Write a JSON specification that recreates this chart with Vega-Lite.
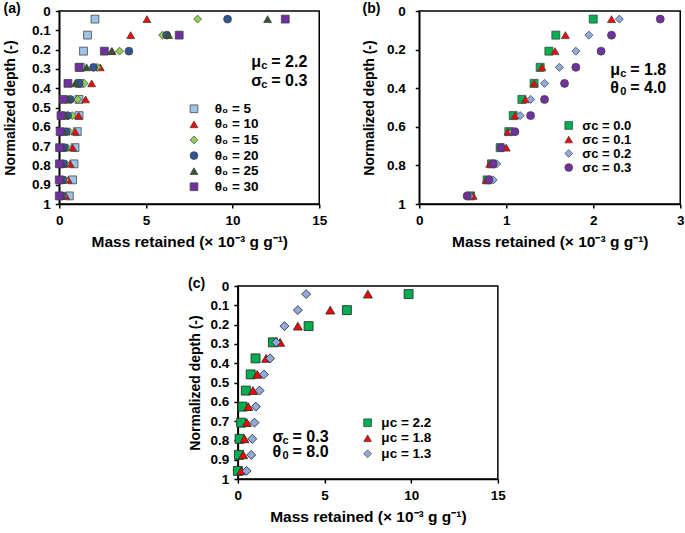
{
  "$schema": "https://vega.github.io/schema/vega-lite/v6.json",
  "padding": {"left": 2, "top": 1, "right": 2, "bottom": 2},
  "background": "white",
  "config": {
    "font": "Liberation Sans",
    "view": {"stroke": "black", "strokeWidth": 1.5},
    "axis": {"grid": false, "domainColor": "black", "domainWidth": 1.5, "tickColor": "black", "tickWidth": 1.5, "tickSize": 4, "labelFont": "Liberation Sans", "labelFontWeight": "bold", "labelFontSize": 13.5, "labelColor": "black", "titleFont": "Liberation Sans", "titleFontWeight": "bold", "titleFontSize": 14, "titleColor": "black", "labelPadding": 5, "labelFlush": false, "labelOverlap": false},
    "legend": {"labelFont": "Liberation Sans", "labelFontWeight": "bold", "labelFontSize": 13.5, "labelColor": "black", "symbolStrokeColor": "#404040", "symbolStrokeWidth": 0.75, "symbolSize": 60, "orient": "none", "padding": 0},
    "title": {"font": "Liberation Sans", "fontSize": 14, "fontWeight": "bold", "color": "black", "anchor": "start", "frame": "bounds"}
  },
  "datasets": {
    "a": [
      {"s": "θ₀ = 5", "d": 0.042, "m": 2.06}, {"s": "θ₀ = 5", "d": 0.125, "m": 1.63}, {"s": "θ₀ = 5", "d": 0.208, "m": 1.40}, {"s": "θ₀ = 5", "d": 0.292, "m": 1.22}, {"s": "θ₀ = 5", "d": 0.375, "m": 1.17}, {"s": "θ₀ = 5", "d": 0.458, "m": 1.14}, {"s": "θ₀ = 5", "d": 0.542, "m": 1.14}, {"s": "θ₀ = 5", "d": 0.625, "m": 1.04}, {"s": "θ₀ = 5", "d": 0.708, "m": 0.91}, {"s": "θ₀ = 5", "d": 0.792, "m": 0.85}, {"s": "θ₀ = 5", "d": 0.875, "m": 0.77}, {"s": "θ₀ = 5", "d": 0.958, "m": 0.58},
      {"s": "θ₀ = 10", "d": 0.042, "m": 5.06}, {"s": "θ₀ = 10", "d": 0.125, "m": 4.12}, {"s": "θ₀ = 10", "d": 0.208, "m": 3.05}, {"s": "θ₀ = 10", "d": 0.292, "m": 2.37}, {"s": "θ₀ = 10", "d": 0.375, "m": 1.87}, {"s": "θ₀ = 10", "d": 0.458, "m": 1.52}, {"s": "θ₀ = 10", "d": 0.542, "m": 1.12}, {"s": "θ₀ = 10", "d": 0.625, "m": 0.92}, {"s": "θ₀ = 10", "d": 0.708, "m": 0.77}, {"s": "θ₀ = 10", "d": 0.792, "m": 0.63}, {"s": "θ₀ = 10", "d": 0.875, "m": 0.52}, {"s": "θ₀ = 10", "d": 0.958, "m": 0.38},
      {"s": "θ₀ = 15", "d": 0.042, "m": 7.98}, {"s": "θ₀ = 15", "d": 0.125, "m": 5.96}, {"s": "θ₀ = 15", "d": 0.208, "m": 3.48}, {"s": "θ₀ = 15", "d": 0.292, "m": 2.19}, {"s": "θ₀ = 15", "d": 0.375, "m": 1.44}, {"s": "θ₀ = 15", "d": 0.458, "m": 1.06}, {"s": "θ₀ = 15", "d": 0.542, "m": 0.75}, {"s": "θ₀ = 15", "d": 0.625, "m": 0.58}, {"s": "θ₀ = 15", "d": 0.708, "m": 0.46}, {"s": "θ₀ = 15", "d": 0.792, "m": 0.38}, {"s": "θ₀ = 15", "d": 0.875, "m": 0.34}, {"s": "θ₀ = 15", "d": 0.958, "m": 0.25},
      {"s": "θ₀ = 20", "d": 0.042, "m": 9.71}, {"s": "θ₀ = 20", "d": 0.125, "m": 6.2}, {"s": "θ₀ = 20", "d": 0.208, "m": 4.02}, {"s": "θ₀ = 20", "d": 0.292, "m": 1.98}, {"s": "θ₀ = 20", "d": 0.375, "m": 1.15}, {"s": "θ₀ = 20", "d": 0.458, "m": 0.64}, {"s": "θ₀ = 20", "d": 0.542, "m": 0.48}, {"s": "θ₀ = 20", "d": 0.625, "m": 0.4}, {"s": "θ₀ = 20", "d": 0.708, "m": 0.3}, {"s": "θ₀ = 20", "d": 0.792, "m": 0.25}, {"s": "θ₀ = 20", "d": 0.875, "m": 0.2}, {"s": "θ₀ = 20", "d": 0.958, "m": 0.15},
      {"s": "θ₀ = 25", "d": 0.042, "m": 12.02}, {"s": "θ₀ = 25", "d": 0.125, "m": 6.31}, {"s": "θ₀ = 25", "d": 0.208, "m": 3.02}, {"s": "θ₀ = 25", "d": 0.292, "m": 1.58}, {"s": "θ₀ = 25", "d": 0.375, "m": 0.92}, {"s": "θ₀ = 25", "d": 0.458, "m": 0.5}, {"s": "θ₀ = 25", "d": 0.542, "m": 0.35}, {"s": "θ₀ = 25", "d": 0.625, "m": 0.25}, {"s": "θ₀ = 25", "d": 0.708, "m": 0.2}, {"s": "θ₀ = 25", "d": 0.792, "m": 0.15}, {"s": "θ₀ = 25", "d": 0.875, "m": 0.12}, {"s": "θ₀ = 25", "d": 0.958, "m": 0.1},
      {"s": "θ₀ = 30", "d": 0.042, "m": 13.04}, {"s": "θ₀ = 30", "d": 0.125, "m": 6.92}, {"s": "θ₀ = 30", "d": 0.208, "m": 2.6}, {"s": "θ₀ = 30", "d": 0.292, "m": 1.14}, {"s": "θ₀ = 30", "d": 0.375, "m": 0.5}, {"s": "θ₀ = 30", "d": 0.458, "m": 0.24}, {"s": "θ₀ = 30", "d": 0.542, "m": 0.1}, {"s": "θ₀ = 30", "d": 0.625, "m": 0.05}, {"s": "θ₀ = 30", "d": 0.708, "m": 0.02}, {"s": "θ₀ = 30", "d": 0.792, "m": 0.01}, {"s": "θ₀ = 30", "d": 0.875, "m": 0.0}, {"s": "θ₀ = 30", "d": 0.958, "m": 0.0}
    ],
    "b": [
      {"s": "σc = 0.0", "d": 0.042, "m": 2.00}, {"s": "σc = 0.0", "d": 0.125, "m": 1.57}, {"s": "σc = 0.0", "d": 0.208, "m": 1.49}, {"s": "σc = 0.0", "d": 0.292, "m": 1.39}, {"s": "σc = 0.0", "d": 0.375, "m": 1.32}, {"s": "σc = 0.0", "d": 0.458, "m": 1.18}, {"s": "σc = 0.0", "d": 0.542, "m": 1.08}, {"s": "σc = 0.0", "d": 0.625, "m": 1.03}, {"s": "σc = 0.0", "d": 0.708, "m": 0.93}, {"s": "σc = 0.0", "d": 0.792, "m": 0.83}, {"s": "σc = 0.0", "d": 0.875, "m": 0.78}, {"s": "σc = 0.0", "d": 0.958, "m": 0.59},
      {"s": "σc = 0.1", "d": 0.042, "m": 2.21}, {"s": "σc = 0.1", "d": 0.125, "m": 1.68}, {"s": "σc = 0.1", "d": 0.208, "m": 1.56}, {"s": "σc = 0.1", "d": 0.292, "m": 1.41}, {"s": "σc = 0.1", "d": 0.375, "m": 1.32}, {"s": "σc = 0.1", "d": 0.458, "m": 1.22}, {"s": "σc = 0.1", "d": 0.542, "m": 1.10}, {"s": "σc = 0.1", "d": 0.625, "m": 1.02}, {"s": "σc = 0.1", "d": 0.708, "m": 1.0}, {"s": "σc = 0.1", "d": 0.792, "m": 0.81}, {"s": "σc = 0.1", "d": 0.875, "m": 0.77}, {"s": "σc = 0.1", "d": 0.958, "m": 0.62},
      {"s": "σc = 0.2", "d": 0.042, "m": 2.30}, {"s": "σc = 0.2", "d": 0.125, "m": 1.95}, {"s": "σc = 0.2", "d": 0.208, "m": 1.80}, {"s": "σc = 0.2", "d": 0.292, "m": 1.61}, {"s": "σc = 0.2", "d": 0.375, "m": 1.44}, {"s": "σc = 0.2", "d": 0.458, "m": 1.28}, {"s": "σc = 0.2", "d": 0.542, "m": 1.16}, {"s": "σc = 0.2", "d": 0.625, "m": 1.07}, {"s": "σc = 0.2", "d": 0.708, "m": 0.95}, {"s": "σc = 0.2", "d": 0.792, "m": 0.89}, {"s": "σc = 0.2", "d": 0.875, "m": 0.85}, {"s": "σc = 0.2", "d": 0.958, "m": 0.58},
      {"s": "σc = 0.3", "d": 0.042, "m": 2.77}, {"s": "σc = 0.3", "d": 0.125, "m": 2.21}, {"s": "σc = 0.3", "d": 0.208, "m": 2.09}, {"s": "σc = 0.3", "d": 0.292, "m": 1.80}, {"s": "σc = 0.3", "d": 0.375, "m": 1.67}, {"s": "σc = 0.3", "d": 0.458, "m": 1.44}, {"s": "σc = 0.3", "d": 0.542, "m": 1.28}, {"s": "σc = 0.3", "d": 0.625, "m": 1.10}, {"s": "σc = 0.3", "d": 0.708, "m": 0.94}, {"s": "σc = 0.3", "d": 0.792, "m": 0.85}, {"s": "σc = 0.3", "d": 0.875, "m": 0.80}, {"s": "σc = 0.3", "d": 0.958, "m": 0.55}
    ],
    "c": [
      {"s": "μc = 2.2", "d": 0.042, "m": 9.85}, {"s": "μc = 2.2", "d": 0.125, "m": 6.29}, {"s": "μc = 2.2", "d": 0.208, "m": 4.08}, {"s": "μc = 2.2", "d": 0.292, "m": 2.02}, {"s": "μc = 2.2", "d": 0.375, "m": 1.02}, {"s": "μc = 2.2", "d": 0.458, "m": 0.74}, {"s": "μc = 2.2", "d": 0.542, "m": 0.46}, {"s": "μc = 2.2", "d": 0.625, "m": 0.27}, {"s": "μc = 2.2", "d": 0.708, "m": 0.19}, {"s": "μc = 2.2", "d": 0.792, "m": 0.1}, {"s": "μc = 2.2", "d": 0.875, "m": 0.06}, {"s": "μc = 2.2", "d": 0.958, "m": 0.0},
      {"s": "μc = 1.8", "d": 0.042, "m": 7.5}, {"s": "μc = 1.8", "d": 0.125, "m": 5.33}, {"s": "μc = 1.8", "d": 0.208, "m": 3.46}, {"s": "μc = 1.8", "d": 0.292, "m": 2.44}, {"s": "μc = 1.8", "d": 0.375, "m": 1.63}, {"s": "μc = 1.8", "d": 0.458, "m": 1.12}, {"s": "μc = 1.8", "d": 0.542, "m": 0.87}, {"s": "μc = 1.8", "d": 0.625, "m": 0.6}, {"s": "μc = 1.8", "d": 0.708, "m": 0.52}, {"s": "μc = 1.8", "d": 0.792, "m": 0.38}, {"s": "μc = 1.8", "d": 0.875, "m": 0.31}, {"s": "μc = 1.8", "d": 0.958, "m": 0.19},
      {"s": "μc = 1.3", "d": 0.042, "m": 3.94}, {"s": "μc = 1.3", "d": 0.125, "m": 3.46}, {"s": "μc = 1.3", "d": 0.208, "m": 2.69}, {"s": "μc = 1.3", "d": 0.292, "m": 2.21}, {"s": "μc = 1.3", "d": 0.375, "m": 1.86}, {"s": "μc = 1.3", "d": 0.458, "m": 1.5}, {"s": "μc = 1.3", "d": 0.542, "m": 1.25}, {"s": "μc = 1.3", "d": 0.625, "m": 1.04}, {"s": "μc = 1.3", "d": 0.708, "m": 0.96}, {"s": "μc = 1.3", "d": 0.792, "m": 0.83}, {"s": "μc = 1.3", "d": 0.875, "m": 0.77}, {"s": "μc = 1.3", "d": 0.958, "m": 0.5}
    ]
  },
  "vconcat": [
    {
      "hconcat": [
        {
          "title": {"text": "(a)", "offset": -12},
          "width": 260, "height": 193,
          "layer": [
            {
              "data": {"name": "a"},
              "mark": {"type": "point", "filled": true, "opacity": 1, "size": 62, "stroke": "#404040", "strokeWidth": 0.75},
              "encoding": {
                "x": {"field": "m", "type": "quantitative", "scale": {"domain": [0, 15], "nice": false}, "axis": {"values": [0, 5, 10, 15], "title": "Mass retained (× 10⁻³ g g⁻¹)", "titlePadding": 8, "titleFontSize": 15.5}},
                "y": {"field": "d", "type": "quantitative", "scale": {"domain": [0, 1], "nice": false, "reverse": true}, "axis": {"values": [0, 0.1, 0.2, 0.3, 0.4, 0.5, 0.6, 0.7, 0.8, 0.9, 1], "format": "~g", "title": "Normalized depth (-)", "titlePadding": 14}},
                "shape": {"field": "s", "type": "nominal", "scale": {"domain": ["θ₀ = 5", "θ₀ = 10", "θ₀ = 15", "θ₀ = 20", "θ₀ = 25", "θ₀ = 30"], "range": ["square", "triangle-up", "diamond", "circle", "triangle-up", "square"]}, "legend": {"title": null, "legendX": 128, "legendY": 91, "rowPadding": 0.6, "labelOffset": 14}},
                "color": {"field": "s", "type": "nominal", "scale": {"domain": ["θ₀ = 5", "θ₀ = 10", "θ₀ = 15", "θ₀ = 20", "θ₀ = 25", "θ₀ = 30"], "range": ["#9DC3E6", "#FF0000", "#92D050", "#2F5597", "#385723", "#7030A0"]}, "legend": {"title": null, "legendX": 128, "legendY": 91, "rowPadding": 0.6, "labelOffset": 14}}
              }
            },
            {"data": {"values": [{}]}, "mark": {"type": "text", "text": ["μ", "σ"], "align": "left", "baseline": "middle", "fontSize": 16, "fontWeight": "bold", "lineHeight": 19, "color": "black"},
             "encoding": {"x": {"datum": 11.08, "type": "quantitative", "axis": {"values": [0, 5, 10, 15], "title": "Mass retained (× 10⁻³ g g⁻¹)", "titlePadding": 8, "titleFontSize": 15.5}}, "y": {"datum": 0.264, "type": "quantitative", "axis": {"values": [0, 0.1, 0.2, 0.3, 0.4, 0.5, 0.6, 0.7, 0.8, 0.9, 1], "format": "~g", "title": "Normalized depth (-)", "titlePadding": 14}}}},
            {"data": {"values": [{}]}, "mark": {"type": "text", "text": ["c", "c"], "align": "left", "baseline": "middle", "fontSize": 11, "fontWeight": "bold", "lineHeight": 19, "color": "black", "dx": 10, "dy": 4},
             "encoding": {"x": {"datum": 11.08, "type": "quantitative", "axis": {"values": [0, 5, 10, 15], "title": "Mass retained (× 10⁻³ g g⁻¹)", "titlePadding": 8, "titleFontSize": 15.5}}, "y": {"datum": 0.264, "type": "quantitative", "axis": {"values": [0, 0.1, 0.2, 0.3, 0.4, 0.5, 0.6, 0.7, 0.8, 0.9, 1], "format": "~g", "title": "Normalized depth (-)", "titlePadding": 14}}}},
            {"data": {"values": [{}]}, "mark": {"type": "text", "text": ["= 2.2", "= 0.3"], "align": "left", "baseline": "middle", "fontSize": 16, "fontWeight": "bold", "lineHeight": 19, "color": "black", "dx": 20},
             "encoding": {"x": {"datum": 11.08, "type": "quantitative", "axis": {"values": [0, 5, 10, 15], "title": "Mass retained (× 10⁻³ g g⁻¹)", "titlePadding": 8, "titleFontSize": 15.5}}, "y": {"datum": 0.264, "type": "quantitative", "axis": {"values": [0, 0.1, 0.2, 0.3, 0.4, 0.5, 0.6, 0.7, 0.8, 0.9, 1], "format": "~g", "title": "Normalized depth (-)", "titlePadding": 14}}}}
          ]
        },
        {
          "title": {"text": "(b)", "offset": -12},
          "width": 261, "height": 193,
          "layer": [
            {
              "data": {"name": "b"},
              "mark": {"type": "point", "filled": true, "opacity": 1, "size": 64, "stroke": "#404040", "strokeWidth": 0.75},
              "encoding": {
                "x": {"field": "m", "type": "quantitative", "scale": {"domain": [0, 3], "nice": false}, "axis": {"values": [0, 1, 2, 3], "format": "~g", "title": "Mass retained (× 10⁻³ g g⁻¹)", "titlePadding": 8, "titleFontSize": 15.5}},
                "y": {"field": "d", "type": "quantitative", "scale": {"domain": [0, 1], "nice": false, "reverse": true}, "axis": {"values": [0, 0.2, 0.4, 0.6, 0.8, 1], "format": "~g", "title": "Normalized depth (-)", "titlePadding": 10, "labelPadding": 10}},
                "shape": {"field": "s", "type": "nominal", "scale": {"domain": ["σc = 0.0", "σc = 0.1", "σc = 0.2", "σc = 0.3"], "range": ["square", "triangle-up", "diamond", "circle"]}, "legend": {"title": null, "legendX": 143, "legendY": 108, "rowPadding": -1.5, "labelOffset": 7, "labelFontSize": 13}},
                "color": {"field": "s", "type": "nominal", "scale": {"domain": ["σc = 0.0", "σc = 0.1", "σc = 0.2", "σc = 0.3"], "range": ["#00B050", "#FF0000", "#8FAADC", "#7030A0"]}, "legend": {"title": null, "legendX": 143, "legendY": 108, "rowPadding": -1.5, "labelOffset": 7, "labelFontSize": 13}}
              }
            },
            {"data": {"values": [{}]}, "mark": {"type": "text", "text": ["μ", "θ"], "align": "left", "baseline": "middle", "fontSize": 16, "fontWeight": "bold", "lineHeight": 17.5, "color": "black"},
             "encoding": {"x": {"datum": 2.195, "type": "quantitative", "axis": {"values": [0, 1, 2, 3], "format": "~g", "title": "Mass retained (× 10⁻³ g g⁻¹)", "titlePadding": 8, "titleFontSize": 15.5}}, "y": {"datum": 0.306, "type": "quantitative", "axis": {"values": [0, 0.2, 0.4, 0.6, 0.8, 1], "format": "~g", "title": "Normalized depth (-)", "titlePadding": 10, "labelPadding": 10}}}},
            {"data": {"values": [{}]}, "mark": {"type": "text", "text": ["c", "0"], "align": "left", "baseline": "middle", "fontSize": 11, "fontWeight": "bold", "lineHeight": 17.5, "color": "black", "dx": 10, "dy": 4},
             "encoding": {"x": {"datum": 2.195, "type": "quantitative", "axis": {"values": [0, 1, 2, 3], "format": "~g", "title": "Mass retained (× 10⁻³ g g⁻¹)", "titlePadding": 8, "titleFontSize": 15.5}}, "y": {"datum": 0.306, "type": "quantitative", "axis": {"values": [0, 0.2, 0.4, 0.6, 0.8, 1], "format": "~g", "title": "Normalized depth (-)", "titlePadding": 10, "labelPadding": 10}}}},
            {"data": {"values": [{}]}, "mark": {"type": "text", "text": ["= 1.8", "= 4.0"], "align": "left", "baseline": "middle", "fontSize": 16, "fontWeight": "bold", "lineHeight": 17.5, "color": "black", "dx": 20},
             "encoding": {"x": {"datum": 2.195, "type": "quantitative", "axis": {"values": [0, 1, 2, 3], "format": "~g", "title": "Mass retained (× 10⁻³ g g⁻¹)", "titlePadding": 8, "titleFontSize": 15.5}}, "y": {"datum": 0.306, "type": "quantitative", "axis": {"values": [0, 0.2, 0.4, 0.6, 0.8, 1], "format": "~g", "title": "Normalized depth (-)", "titlePadding": 10, "labelPadding": 10}}}}
          ]
        }
      ],
      "spacing": 33,
      "resolve": {"scale": {"x": "independent", "y": "independent", "color": "independent", "shape": "independent"}, "legend": {"color": "independent", "shape": "independent"}}
    },
    {
      "title": {"text": "(c)", "offset": -12},
      "width": 260, "height": 193,
      "layer": [
        {
          "data": {"name": "c"},
          "mark": {"type": "point", "filled": true, "opacity": 1, "size": 80, "stroke": "#303030", "strokeWidth": 0.9},
          "encoding": {
            "x": {"field": "m", "type": "quantitative", "scale": {"domain": [0, 15], "nice": false}, "axis": {"values": [0, 5, 10, 15], "title": "Mass retained (× 10⁻³ g g⁻¹)", "titlePadding": 8, "titleFontSize": 15.5}},
            "y": {"field": "d", "type": "quantitative", "scale": {"domain": [0, 1], "nice": false, "reverse": true}, "axis": {"values": [0, 0.1, 0.2, 0.3, 0.4, 0.5, 0.6, 0.7, 0.8, 0.9, 1], "format": "~g", "title": "Normalized depth (-)", "titlePadding": 8}},
            "shape": {"field": "s", "type": "nominal", "scale": {"domain": ["μc = 2.2", "μc = 1.8", "μc = 1.3"], "range": ["square", "triangle-up", "diamond"]}, "legend": {"title": null, "legendX": 123, "legendY": 130, "rowPadding": 0.5, "labelOffset": 7}},
            "color": {"field": "s", "type": "nominal", "scale": {"domain": ["μc = 2.2", "μc = 1.8", "μc = 1.3"], "range": ["#00B050", "#FF0000", "#8FAADC"]}, "legend": {"title": null, "legendX": 123, "legendY": 130, "rowPadding": 0.5, "labelOffset": 7}}
          }
        },
        {"data": {"values": [{}]}, "mark": {"type": "text", "text": ["σ", "θ"], "align": "left", "baseline": "middle", "fontSize": 16, "fontWeight": "bold", "lineHeight": 15.5, "color": "black"},
         "encoding": {"x": {"datum": 2.0, "type": "quantitative", "axis": {"values": [0, 5, 10, 15], "title": "Mass retained (× 10⁻³ g g⁻¹)", "titlePadding": 8, "titleFontSize": 15.5}}, "y": {"datum": 0.782, "type": "quantitative", "axis": {"values": [0, 0.1, 0.2, 0.3, 0.4, 0.5, 0.6, 0.7, 0.8, 0.9, 1], "format": "~g", "title": "Normalized depth (-)", "titlePadding": 8}}}},
        {"data": {"values": [{}]}, "mark": {"type": "text", "text": ["c", "0"], "align": "left", "baseline": "middle", "fontSize": 11, "fontWeight": "bold", "lineHeight": 15.5, "color": "black", "dx": 10, "dy": 4},
         "encoding": {"x": {"datum": 2.0, "type": "quantitative", "axis": {"values": [0, 5, 10, 15], "title": "Mass retained (× 10⁻³ g g⁻¹)", "titlePadding": 8, "titleFontSize": 15.5}}, "y": {"datum": 0.782, "type": "quantitative", "axis": {"values": [0, 0.1, 0.2, 0.3, 0.4, 0.5, 0.6, 0.7, 0.8, 0.9, 1], "format": "~g", "title": "Normalized depth (-)", "titlePadding": 8}}}},
        {"data": {"values": [{}]}, "mark": {"type": "text", "text": ["= 0.3", "= 8.0"], "align": "left", "baseline": "middle", "fontSize": 16, "fontWeight": "bold", "lineHeight": 15.5, "color": "black", "dx": 20},
         "encoding": {"x": {"datum": 2.0, "type": "quantitative", "axis": {"values": [0, 5, 10, 15], "title": "Mass retained (× 10⁻³ g g⁻¹)", "titlePadding": 8, "titleFontSize": 15.5}}, "y": {"datum": 0.782, "type": "quantitative", "axis": {"values": [0, 0.1, 0.2, 0.3, 0.4, 0.5, 0.6, 0.7, 0.8, 0.9, 1], "format": "~g", "title": "Normalized depth (-)", "titlePadding": 8}}}}
      ]
    }
  ],
  "spacing": 25,
  "center": true,
  "resolve": {"scale": {"x": "independent", "y": "independent", "color": "independent", "shape": "independent"}, "legend": {"color": "independent", "shape": "independent"}}
}
